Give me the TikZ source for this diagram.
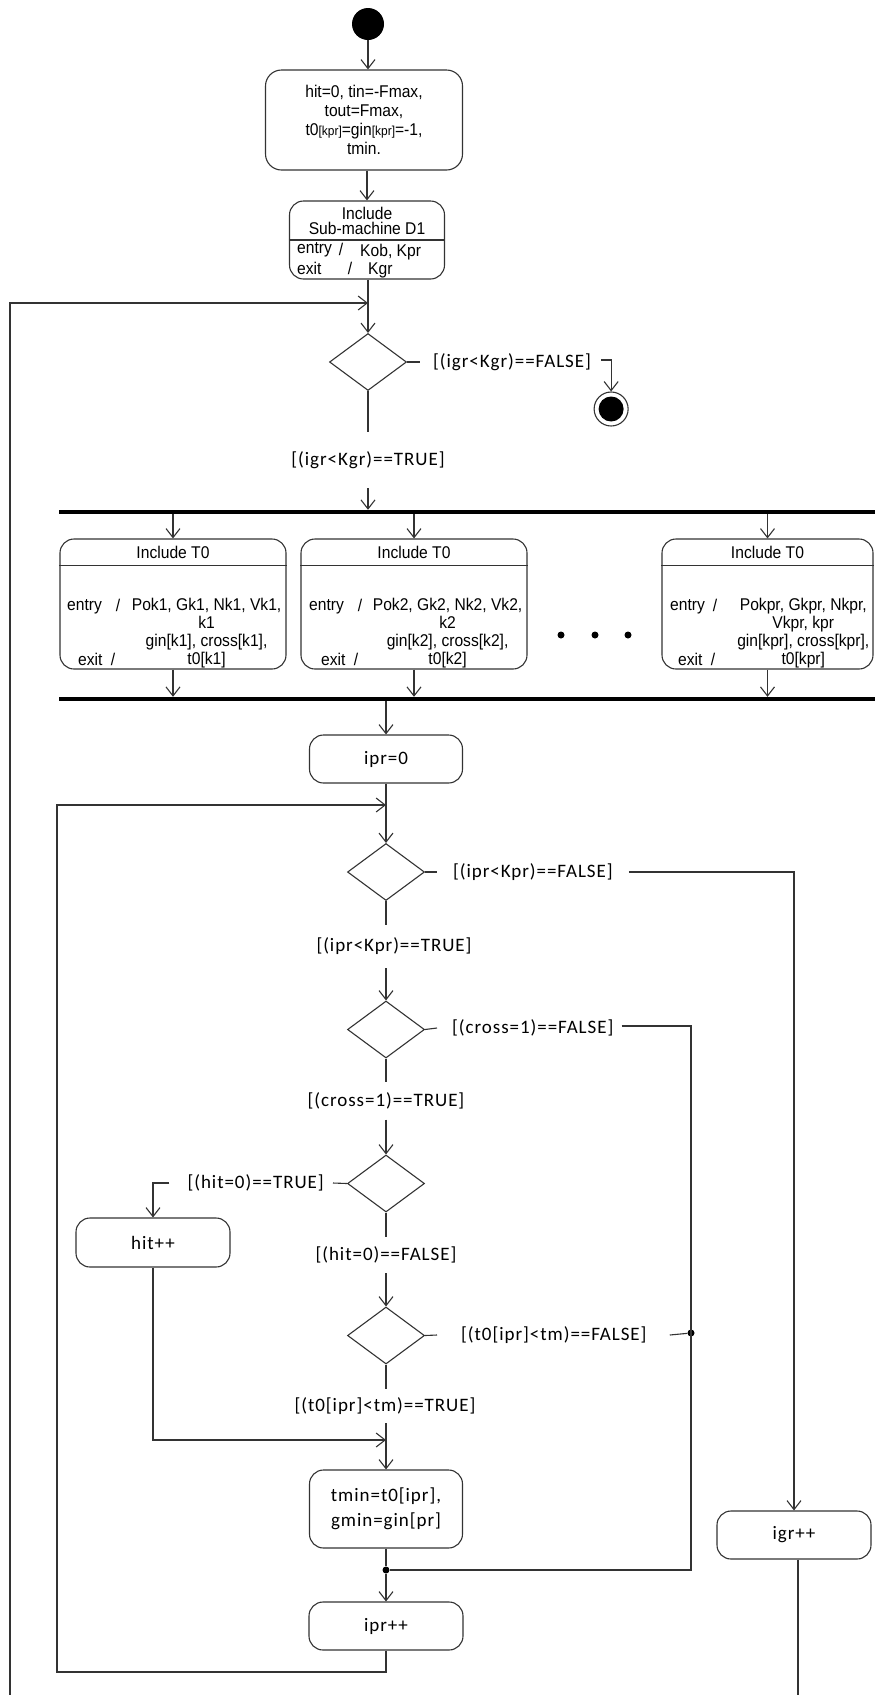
\documentclass[tikz,border=0pt]{standalone}
\usepackage{fontspec}
\usetikzlibrary{arrows.meta,shapes.geometric,calc}
\newfontfamily\arialn[FakeStretch=0.92]{Liberation Sans}
\newfontfamily\calib[LetterSpace=5]{Carlito}
\begin{document}
\begin{tikzpicture}[x=1pt,y=-1pt,
  ln/.style={line width=1.1pt, draw=black!80},
  arr/.style={ln, -{Straight Barb[length=9pt,width=14pt,line width=1.1pt]}},
  rbox/.style={draw=black!80, line width=1.1pt, rounded corners=14pt, inner sep=0pt},
  dec/.style={draw=black!80, line width=1.1pt, diamond, inner sep=0pt, minimum width=77pt, minimum height=57pt},
  bar/.style={fill=black, inner sep=0pt, minimum height=4pt},
  atxt/.style={font=\arialn\fontsize{17}{18}\selectfont, inner sep=0pt, align=center},
  gl/.style={font=\calib\fontsize{19}{25}\selectfont, inner sep=0pt, align=center},
  jdot/.style={circle, fill=black, inner sep=0pt, minimum size=7pt},
]
\useasboundingbox (0,0) rectangle (875,1695);
\fill[white] (0,0) rectangle (875,1695);

% ---------- top ----------
\node[circle, fill=black, inner sep=0pt, minimum size=32pt] (start) at (368,24) {};
\node[rbox, atxt, font=\arialn\fontsize{17}{19}\selectfont, rounded corners=16pt,
      minimum width=197pt, minimum height=100pt] (b1) at (364,120)
  {hit=0, tin=-Fmax,\\tout=Fmax,\\t0{\fontsize{13}{13}\selectfont[kpr]}=gin{\fontsize{13}{13}\selectfont[kpr]}=-1,\\tmin.};
\draw[arr] (start.south) -- (start.south |- b1.north);

\node[rbox, minimum width=155pt, minimum height=78pt] (b2) at (367,240) {};
\draw[ln] (b2.west) -- (b2.east);
\node[atxt, font=\arialn\fontsize{17}{15}\selectfont] (b2h) at (367,221) {Include\\Sub-machine D1};
\node[atxt, anchor=west] (b2e) at (297,250) {entry};
\node[atxt] (b2es) at (341,249) {/};
\node[atxt, anchor=west] (b2ev) at (360,252) {Kob, Kpr};
\node[atxt, anchor=west] (b2x) at (297,268) {exit};
\node[atxt] (b2xs) at (350,268) {/};
\node[atxt, anchor=west] (b2xv) at (368,270) {Kgr};
\draw[arr] (b2.north |- b1.south) -- (b2.north);

\node[dec] (d1) at (368,362) {};
\draw[arr] (b2.south -| d1.north) -- (d1.north);
\coordinate (lpb) at (10,1695);
\coordinate (lp1) at (10,303);
\draw[arr] (lpb) -- (lp1) -- (lp1 -| d1.north);

\node[gl, anchor=west] (f1) at (433,362) {[(igr<Kgr)==FALSE]};
\draw[ln] (d1.east) -- ([xshift=-13pt]f1.west);
\node[circle, draw=black!80, line width=1.1pt, inner sep=0pt, minimum size=34pt] (end) at ($(f1.east)+(20,47)$) {};
\node[circle, fill=black, inner sep=0pt, minimum size=25pt] (endin) at (end.center) {};
\draw[arr] ([xshift=10pt,yshift=2pt]f1.east) -| (end.north);

\node[gl, minimum height=56pt] (t1) at (368,460) {[(igr<Kgr)==TRUE]};
\draw[ln] (d1.south) -- (d1.south |- t1.north);

% ---------- fork ----------
\node[bar, minimum width=816pt] (bar1) at (467,512) {};
\node[bar, minimum width=816pt] (bar2) at (467,699) {};
\draw[arr] (d1.south |- t1.south) -- (d1.south |- bar1.north);

\node[rbox, minimum width=226pt, minimum height=130pt] (tA) at (173,604) {};
\node[rbox, minimum width=226pt, minimum height=130pt] (tB) at (414,604) {};
\node[rbox, minimum width=211pt, minimum height=130pt] (tC) at (767.5,604) {};
\foreach \b in {tA,tB,tC}{
  \draw[ln] ($(\b.north west)+(0,27)$) -- ($(\b.north east)+(0,27)$);
  \draw[arr] (bar1.south -| \b.north) -- (\b.north);
  \draw[arr] (\b.south) -- (\b.south |- bar2.north);
}
\node[atxt] (tAh) at ($(tA.north)+(0,14)$) {Include T0};
\node[atxt] (tBh) at ($(tB.north)+(0,14)$) {Include T0};
\node[atxt] (tCh) at ($(tC.north)+(0,14)$) {Include T0};

% box A
\node[atxt, anchor=north west] (tAe) at (67,599) {entry};
\node[atxt, anchor=north] (tAes) at (118,599) {/};
\node[atxt, anchor=north west] (tAx) at (78,653) {exit};
\node[atxt, anchor=north] (tAxs) at (113,653) {/};
\node[atxt, anchor=north east] (tAv) at ($(tA.north east)+(-5,60)$) {Pok1, Gk1, Nk1, Vk1,\\k1\\gin[k1], cross[k1],\\t0[k1]};
% box B
\node[atxt, anchor=north west] (tBe) at (309,599) {entry};
\node[atxt, anchor=north] (tBes) at (360,599) {/};
\node[atxt, anchor=north west] (tBx) at (321,653) {exit};
\node[atxt, anchor=north] (tBxs) at (356,653) {/};
\node[atxt, anchor=north east] (tBv) at ($(tB.north east)+(-5,60)$) {Pok2, Gk2, Nk2, Vk2,\\k2\\gin[k2], cross[k2],\\t0[k2]};
% box C
\node[atxt, anchor=north west] (tCe) at (670,599) {entry};
\node[atxt, anchor=north] (tCes) at (715,599) {/};
\node[atxt, anchor=north west] (tCx) at (678,653) {exit};
\node[atxt, anchor=north] (tCxs) at (713,653) {/};
\node[atxt, anchor=north east] (tCv) at ($(tC.north east)+(-4,60)$) {Pokpr, Gkpr, Nkpr,\\Vkpr, kpr\\gin[kpr], cross[kpr],\\t0[kpr]};

\node[jdot] (dt1) at (561,635) {};
\node[jdot] (dt2) at (595,635) {};
\node[jdot] (dt3) at (628,635) {};

% ---------- inner loop ----------
\node[rbox, gl, minimum width=153pt, minimum height=48pt] (i0) at (386,759) {ipr=0};
\draw[arr] (bar2.south -| i0.north) -- (i0.north);

\node[dec] (d2) at (386,872) {};
\draw[arr] (i0.south) -- (d2.north);
\coordinate (ilb) at (57,1672);
\coordinate (il) at (57,805);

\node[gl, anchor=west] (f2) at (453,872) {[(ipr<Kpr)==FALSE]};
\draw[ln] (d2.east) -- ([xshift=-16pt]f2.west);
\node[rbox, gl, minimum width=154pt, minimum height=48pt] (igr) at (794,1535) {igr++};
\draw[arr] ([xshift=16pt]f2.east) -| (igr.north);
\coordinate (ob) at (798,1695);
\draw[ln] (igr.south -| ob) -- (ob);

\node[gl, minimum height=43pt] (t2) at (394,946.5) {[(ipr<Kpr)==TRUE]};
\draw[ln] (d2.south) -- (d2.south |- t2.north);

\node[dec] (d3) at (386,1029.5) {};
\draw[arr] (d2.south |- t2.south) -- (d3.north);
\node[gl, anchor=west] (f3) at (452,1028) {[(cross=1)==FALSE]};
\draw[ln] (d3.east) -- ([xshift=-15pt]f3.west);
\node[jdot] (jr) at (691,1333) {};
\node[jdot] (jm) at (386,1570) {};
\coordinate (jb) at (691,1570);
\draw[ln] ([xshift=8pt,yshift=2pt]f3.east) -| (jb) -- (jm);

\node[gl, minimum height=37pt] (t3) at (386,1101) {[(cross=1)==TRUE]};
\draw[ln] (d3.south) -- (d3.south |- t3.north);

\node[dec] (d4) at (386,1183.5) {};
\draw[arr] (d3.south |- t3.south) -- (d4.north);
\node[gl, anchor=east] (h4) at (324,1183) {[(hit=0)==TRUE]};
\draw[ln] (d4.west) -- ([xshift=9pt]h4.east);
\node[rbox, gl, minimum width=154pt, minimum height=49pt] (hit) at (153,1242.5) {hit++};
\draw[arr] ([xshift=-18pt]h4.west) -| (hit.north);

\node[gl, minimum height=36pt] (t4) at (386,1255) {[(hit=0)==FALSE]};
\draw[ln] (d4.south) -- (d4.south |- t4.north);

\node[dec] (d5) at (386,1335.5) {};
\draw[arr] (d4.south |- t4.south) -- (d5.north);
\node[gl, anchor=west] (f5) at (461,1335) {[(t0[ipr]<tm)==FALSE]};
\draw[ln] (d5.east) -- ([xshift=-24pt]f5.west);
\draw[ln] ([xshift=23pt]f5.east) -- (jr);

\node[gl, minimum height=34pt] (t5) at (385,1406) {[(t0[ipr]<tm)==TRUE]};
\draw[ln] (d5.south) -- (d5.south |- t5.north);

\node[rbox, gl, minimum width=153pt, minimum height=78pt] (tmin) at (386,1509) {tmin=t0[ipr],\\gmin=gin[pr]};
\draw[arr] (d5.south |- t5.south) -- (tmin.north);
\coordinate (mg) at (386,1440);
\draw[arr] (hit.south) |- (mg);

\node[rbox, gl, minimum width=154pt, minimum height=48pt] (ipp) at (386,1626) {ipr++};
\draw[ln] (tmin.south) -- (jm);
\draw[arr] (jm) -- (ipp.north);
\draw[arr] (ipp.south) -- (ipp.south |- ilb) -- (ilb) -- (il) -- (il -| d2.north);
\end{tikzpicture}
\end{document}
